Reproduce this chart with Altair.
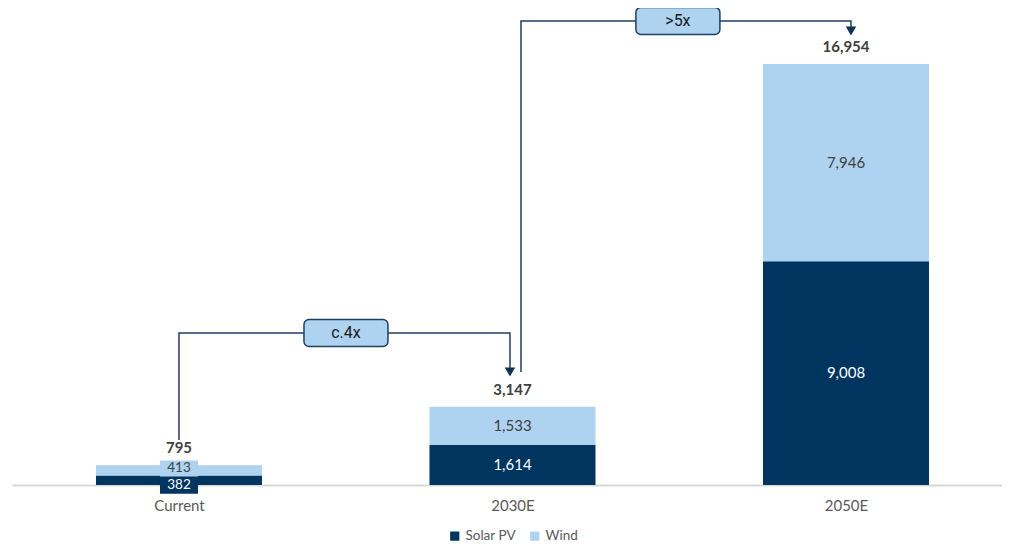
import json
import altair as alt
import pandas as pd

# ---- data ----
categories = ["Current", "2030E", "2050E"]
positions = [0, 1, 2]
solar_pv = [382, 1614, 9008]
wind = [413, 1533, 7946]
totals = [795, 3147, 16954]

# growth callouts (annotation data, in chart units)
callout_labels = ["c.4x", ">5x"]
callout_x = [0.5007, 1.496]
callout_y = [6122, 18690]

# connector paths (x in category units, y in value units)
conn_id = [1, 1, 1, 1, 2, 2, 2, 2]
conn_order = [0, 1, 2, 3, 0, 1, 2, 3]
conn_x = [0.0, 0.0, 0.9925, 0.9925, 1.0255, 1.0255, 2.015, 2.015]
conn_y = [1810, 6122, 6122, 4551, 4551, 18690, 18690, 18284]

NAVY = "#003560"
LIGHT = "#ADD3F0"
LINE = "#1f3f60"
FONT = "Lato"

# ---- tables ----
rows = []
for c, p, s, w, t in zip(categories, positions, solar_pv, wind, totals):
    rows.append(dict(cat=c, pos=p, series="Solar PV", order=0, value=s,
                     lo=0, hi=s, mid=s / 2, bg=(c == "Current")))
    rows.append(dict(cat=c, pos=p, series="Wind", order=1, value=w,
                     lo=s, hi=s + w, mid=s + w / 2, bg=(c == "Current")))
seg = pd.DataFrame(rows)
seg["label"] = seg["value"].map(lambda v: f"{v:,}")
tot = pd.DataFrame(dict(cat=categories, pos=positions, total=totals))
tot["label"] = tot["total"].map(lambda v: f"{v:,}")
conn = pd.DataFrame(dict(id=conn_id, o=conn_order, x=conn_x, y=conn_y))
ends = conn[conn["o"] == 3]
box = pd.DataFrame(dict(label=callout_labels, x=callout_x, y=callout_y))

xscale = alt.Scale(domain=[-0.5007, 2.4678], nice=False, zero=False, padding=0)
yscale = alt.Scale(domain=[0, 19210], nice=False, padding=0)

label_expr = "%s[datum.value]" % json.dumps(categories)

x_axis = alt.Axis(values=positions, labelExpr=label_expr, title=None, ticks=False,
                  grid=False, domainColor="#D9D9D9", domainWidth=2,
                  labelFont=FONT, labelFontSize=15, labelColor="#595959",
                  labelPadding=13)

bars = alt.Chart(seg).mark_bar(width=166).encode(
    x=alt.X("pos:Q", scale=xscale, axis=x_axis),
    y=alt.Y("lo:Q", scale=yscale, axis=None),
    y2="hi:Q",
    color=alt.Color("series:N",
                    scale=alt.Scale(domain=["Solar PV", "Wind"], range=[NAVY, LIGHT]),
                    legend=alt.Legend(title=None, orient="none", direction="horizontal",
                                      legendX=436, legendY=521, symbolType="square",
                                      symbolSize=85, symbolStrokeWidth=0,
                                      labelFont=FONT, labelFontSize=13.5,
                                      labelColor="#595959", labelOffset=4,
                                      columnPadding=12, padding=0)),
)

cur = seg[seg["bg"]]
cur_solar = cur[cur["series"] == "Solar PV"]
cur_wind = cur[cur["series"] == "Wind"]
others = seg[~seg["bg"]]

bg_solar = alt.Chart(cur_solar).mark_rect(
    width=38, height=19, color=NAVY, yOffset=4).encode(
    x=alt.X("pos:Q", scale=xscale), y=alt.Y("mid:Q", scale=yscale))
bg_wind = alt.Chart(cur_wind).mark_rect(
    width=38, height=16, color=LIGHT, yOffset=-2).encode(
    x=alt.X("pos:Q", scale=xscale), y=alt.Y("mid:Q", scale=yscale))


def seg_labels(df, dy=0, size=15):
    return alt.Chart(df).mark_text(font=FONT, fontSize=size, baseline="middle", dy=dy).encode(
        x=alt.X("pos:Q", scale=xscale),
        y=alt.Y("mid:Q", scale=yscale),
        text="label:N",
        color=alt.Color("series:N",
                        scale=alt.Scale(domain=["Solar PV", "Wind"],
                                        range=["#FFFFFF", "#404040"]),
                        legend=None),
    )


seg_text = seg_labels(others)
cur_solar_text = seg_labels(cur_solar, dy=5, size=13.5)
cur_wind_text = seg_labels(cur_wind, dy=-2, size=13.5)

tot_text = alt.Chart(tot).mark_text(font=FONT, fontSize=15, fontWeight="bold",
                                    baseline="middle", dy=-17, color="#404040").encode(
    x=alt.X("pos:Q", scale=xscale),
    y=alt.Y("total:Q", scale=yscale),
    text="label:N",
)

lines = alt.Chart(conn).mark_line(color=LINE, strokeWidth=1.5, clip=False).encode(
    x=alt.X("x:Q", scale=xscale),
    y=alt.Y("y:Q", scale=yscale),
    detail="id:N",
    order="o:Q",
)

arrows = alt.Chart(ends).mark_point(shape="triangle-down", filled=True, size=110,
                                    color="#0f3357", opacity=1).encode(
    x=alt.X("x:Q", scale=xscale),
    y=alt.Y("y:Q", scale=yscale),
)

boxes = alt.Chart(box).mark_rect(width=84, height=27, cornerRadius=5, fill=LIGHT,
                                 stroke=LINE, strokeWidth=1.5, clip=False).encode(
    x=alt.X("x:Q", scale=xscale),
    y=alt.Y("y:Q", scale=yscale),
)

box_text = alt.Chart(box).mark_text(font="Roboto", fontSize=16, baseline="middle",
                                    color="#1a1a1a").encode(
    x=alt.X("x:Q", scale=xscale),
    y=alt.Y("y:Q", scale=yscale),
    text="label:N",
)

chart = alt.layer(bars, bg_solar, bg_wind, seg_text, cur_solar_text, cur_wind_text,
                  tot_text, lines, arrows, boxes, box_text
).resolve_scale(color="independent").properties(
    width=990, height=477,
    autosize=alt.AutoSizeParams(type="none"),
    padding={"left": 4, "top": 0, "right": 0, "bottom": 58},
).configure(background="white", view=alt.ViewConfig(stroke=None))

chart.save("out.html", embed_options={"renderer": "svg", "actions": False})
